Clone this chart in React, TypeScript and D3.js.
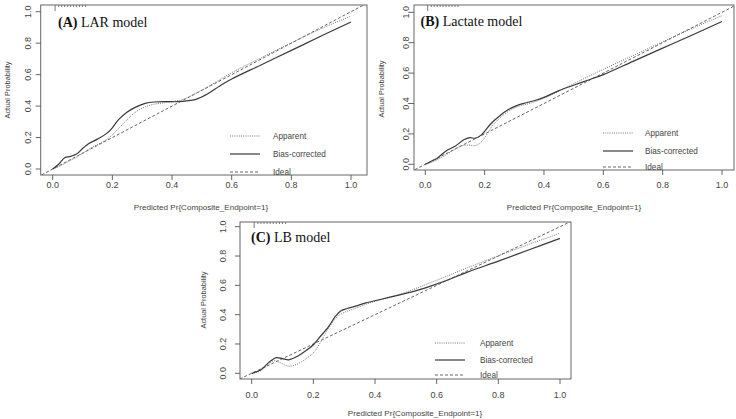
import { useEffect, useRef } from 'react';
import * as d3 from 'd3';

// calibration curves
const A_X_BIAS = [0, 0.02, 0.04, 0.06, 0.08, 0.1, 0.12, 0.15, 0.18, 0.2, 0.22, 0.25, 0.28, 0.31, 0.34, 0.38, 0.42, 0.45, 0.48, 0.52, 0.56, 0.6, 0.7, 0.8, 0.9, 1.0];
const A_Y_BIAS = [0, 0.03, 0.072, 0.08, 0.095, 0.13, 0.16, 0.19, 0.225, 0.262, 0.312, 0.362, 0.395, 0.417, 0.426, 0.428, 0.428, 0.433, 0.443, 0.478, 0.528, 0.572, 0.663, 0.754, 0.845, 0.935];
const A_X_APP = [0, 0.02, 0.04, 0.06, 0.08, 0.1, 0.13, 0.16, 0.19, 0.22, 0.25, 0.28, 0.31, 0.34, 0.37, 0.4, 0.44, 0.48, 0.52, 0.56, 0.6, 0.7, 0.8, 0.9, 1.0];
const A_Y_APP = [0, 0.015, 0.035, 0.055, 0.076, 0.1, 0.135, 0.165, 0.2, 0.255, 0.315, 0.365, 0.395, 0.412, 0.42, 0.428, 0.445, 0.482, 0.522, 0.568, 0.612, 0.708, 0.802, 0.892, 0.972];

const B_X_BIAS = [0, 0.02, 0.04, 0.07, 0.1, 0.13, 0.15, 0.17, 0.19, 0.22, 0.25, 0.28, 0.31, 0.34, 0.37, 0.4, 0.45, 0.5, 0.55, 0.6, 0.7, 0.8, 0.9, 1.0];
const B_Y_BIAS = [0, 0.02, 0.04, 0.088, 0.118, 0.162, 0.175, 0.172, 0.195, 0.265, 0.318, 0.36, 0.388, 0.405, 0.42, 0.44, 0.485, 0.52, 0.555, 0.59, 0.677, 0.764, 0.851, 0.939];
const B_X_APP = [0, 0.02, 0.05, 0.08, 0.1, 0.12, 0.14, 0.17, 0.19, 0.21, 0.23, 0.26, 0.29, 0.32, 0.36, 0.4, 0.45, 0.5, 0.6, 0.7, 0.8, 0.9, 1.0];
const B_Y_APP = [0, 0.012, 0.04, 0.075, 0.1, 0.12, 0.127, 0.124, 0.15, 0.205, 0.262, 0.32, 0.36, 0.385, 0.405, 0.435, 0.48, 0.53, 0.625, 0.715, 0.806, 0.894, 0.978];

const C_X_BIAS = [0, 0.03, 0.06, 0.08, 0.1, 0.12, 0.15, 0.18, 0.2, 0.22, 0.25, 0.27, 0.29, 0.31, 0.34, 0.37, 0.42, 0.47, 0.52, 0.58, 0.64, 0.7, 0.8, 0.9, 1.0];
const C_Y_BIAS = [0, 0.025, 0.082, 0.107, 0.1, 0.092, 0.118, 0.16, 0.195, 0.245, 0.32, 0.385, 0.427, 0.442, 0.46, 0.48, 0.505, 0.53, 0.555, 0.595, 0.64, 0.69, 0.765, 0.843, 0.92];
const C_X_APP = [0, 0.02, 0.04, 0.07, 0.09, 0.12, 0.15, 0.18, 0.2, 0.22, 0.25, 0.28, 0.3, 0.33, 0.38, 0.45, 0.5, 0.6, 0.7, 0.8, 0.9, 1.0];
const C_Y_APP = [0, 0.008, 0.035, 0.085, 0.075, 0.048, 0.065, 0.105, 0.14, 0.2, 0.31, 0.39, 0.415, 0.438, 0.478, 0.52, 0.553, 0.635, 0.72, 0.802, 0.88, 0.955];

// little histogram of predictions along the top edge
const RUG = [0.008, 0.02, 0.03, 0.04, 0.05, 0.06, 0.07, 0.08, 0.09, 0.1, 0.11];

const TICKS = [0, 0.2, 0.4, 0.6, 0.8, 1.0];
const LEGEND = ['Apparent', 'Bias-corrected', 'Ideal'];
const X_TITLE = 'Predicted Pr{Composite_Endpoint=1}';
const Y_TITLE = 'Actual Probability';

interface PanelSpec {
  id: string;
  tag: string;
  name: string;
  box: [number, number, number, number]; // l, t, r, b
  xr: [number, number]; // px of 0 and 1
  yr: [number, number];
  xLabY: number;
  yLabX: number;
  xTitle: [number, number];
  yTitle: [number, number];
  titleAt: [number, number];
  legend: [number, number, number, number[]]; // line x0, line x1, label x, rows
  bias: [number[], number[]];
  app: [number[], number[]];
}

const PANELS: PanelSpec[] = [
  {
    id: 'a', tag: '(A)', name: 'LAR model',
    box: [40.7, 5, 367, 175], xr: [52.7, 351], yr: [169, 11.7],
    xLabY: 185, yLabX: 28, xTitle: [201, 207], yTitle: [7.5, 90], titleAt: [58, 26.5],
    legend: [230, 260, 273, [136, 154, 172]],
    bias: [A_X_BIAS, A_Y_BIAS], app: [A_X_APP, A_Y_APP],
  },
  {
    id: 'b', tag: '(B)', name: 'Lactate model',
    box: [414, 5, 734, 170], xr: [425.3, 722], yr: [164.3, 12.3],
    xLabY: 185, yLabX: 406, xTitle: [574, 207], yTitle: [381, 89], titleAt: [420.5, 26],
    legend: [603, 633, 645, [133, 151, 167]],
    bias: [B_X_BIAS, B_Y_BIAS], app: [B_X_APP, B_Y_APP],
  },
  {
    id: 'c', tag: '(C)', name: 'LB model',
    box: [240, 222, 571, 379], xr: [251.7, 560], yr: [373.3, 226.7],
    xLabY: 395, yLabX: 223, xTitle: [415, 413], yTitle: [203, 300], titleAt: [251, 241.5],
    legend: [435, 465, 480, [343, 360, 375]],
    bias: [C_X_BIAS, C_Y_BIAS], app: [C_X_APP, C_Y_APP],
  },
];

const SANS = 'Liberation Sans, Arial, sans-serif';
const SERIF = 'Liberation Serif, Times New Roman, serif';

const drawPanel = (root: d3.Selection<SVGGElement, unknown, null, undefined>, p: PanelSpec) => {
  const [l, t, r, b] = p.box;
  const x = d3.scaleLinear().domain([0, 1]).range(p.xr);
  const y = d3.scaleLinear().domain([0, 1]).range(p.yr);
  const g = root.append('g');

  g.append('clipPath').attr('id', `clip-${p.id}`)
    .append('rect').attr('x', l).attr('y', t).attr('width', r - l).attr('height', b - t);

  const line = d3.line<[number, number]>()
    .x((d) => x(d[0]))
    .y((d) => y(d[1]))
    .curve(d3.curveCatmullRom.alpha(0.5));
  const pairs = (xs: number[], ys: number[]) => xs.map((v, i) => [v, ys[i]] as [number, number]);

  const plot = g.append('g').attr('clip-path', `url(#clip-${p.id})`);
  // ideal
  plot.append('path')
    .attr('d', line([[-0.2, -0.2], [1.2, 1.2]]))
    .attr('fill', 'none').attr('stroke', '#555').attr('stroke-width', 0.9).attr('stroke-dasharray', '3,2');
  // apparent
  plot.append('path')
    .attr('d', line(pairs(p.app[0], p.app[1])))
    .attr('fill', 'none').attr('stroke', '#777').attr('stroke-width', 1).attr('stroke-dasharray', '1,1.2');
  // bias-corrected
  plot.append('path')
    .attr('d', line(pairs(p.bias[0], p.bias[1])))
    .attr('fill', 'none').attr('stroke', '#3a3a3a').attr('stroke-width', 1.2);

  // rug at top
  g.selectAll(null).data(RUG).join('line')
    .attr('x1', (d) => x(d)).attr('x2', (d) => x(d))
    .attr('y1', t).attr('y2', (d, i) => (i === 0 ? t + 6 : t + 2))
    .attr('stroke', '#555').attr('stroke-width', 0.8);

  // box
  g.append('rect').attr('x', l).attr('y', t).attr('width', r - l).attr('height', b - t)
    .attr('fill', 'none').attr('stroke', '#666').attr('stroke-width', 1);

  // x axis
  TICKS.forEach((v) => {
    g.append('line').attr('x1', x(v)).attr('x2', x(v)).attr('y1', b).attr('y2', b + 5)
      .attr('stroke', '#555').attr('stroke-width', 0.9);
    g.append('text').attr('x', x(v)).attr('y', p.xLabY + 3.2).attr('text-anchor', 'middle')
      .style('font-family', SANS).style('font-size', '9px').attr('fill', '#444')
      .text(v.toFixed(1));
  });
  // y axis
  TICKS.forEach((v) => {
    g.append('line').attr('x1', l - 5).attr('x2', l).attr('y1', y(v)).attr('y2', y(v))
      .attr('stroke', '#555').attr('stroke-width', 0.9);
    g.append('text')
      .attr('transform', `translate(${p.yLabX + 3.2},${y(v)}) rotate(-90)`)
      .attr('text-anchor', 'middle')
      .style('font-family', SANS).style('font-size', '9px').attr('fill', '#444')
      .text(v.toFixed(1));
  });

  g.append('text').attr('x', p.xTitle[0]).attr('y', p.xTitle[1] + 3).attr('text-anchor', 'middle')
    .style('font-family', SANS).style('font-size', '8.1px').attr('fill', '#444').text(X_TITLE);
  g.append('text')
    .attr('transform', `translate(${p.yTitle[0] + 2.8},${p.yTitle[1]}) rotate(-90)`)
    .attr('text-anchor', 'middle')
    .style('font-family', SANS).style('font-size', '7.4px').attr('fill', '#444').text(Y_TITLE);

  const title = g.append('text').attr('x', p.titleAt[0]).attr('y', p.titleAt[1])
    .style('font-family', SERIF).style('font-size', '14px').attr('fill', '#111');
  title.append('tspan').attr('font-weight', 'bold').text(p.tag);
  title.append('tspan').text(` ${p.name}`);

  // legend
  const [lx0, lx1, tx, rows] = p.legend;
  const styles = [
    { stroke: '#777', dash: '1,1.2', w: 1 },
    { stroke: '#3a3a3a', dash: null, w: 1.2 },
    { stroke: '#555', dash: '3,2', w: 0.9 },
  ];
  LEGEND.forEach((lab, i) => {
    g.append('line').attr('x1', lx0).attr('x2', lx1).attr('y1', rows[i]).attr('y2', rows[i])
      .attr('stroke', styles[i].stroke).attr('stroke-width', styles[i].w)
      .attr('stroke-dasharray', styles[i].dash);
    g.append('text').attr('x', tx).attr('y', rows[i] + 3)
      .style('font-family', SANS).style('font-size', '8.2px').attr('fill', '#444').text(lab);
  });
};

export default function App() {
  const ref = useRef<SVGSVGElement>(null);

  useEffect(() => {
    if (!ref.current) return;
    const svg = d3.select(ref.current);
    svg.selectAll('*').remove();
    const root = svg.append('g');
    PANELS.forEach((p) => drawPanel(root, p));
  }, []);

  return (
    <svg
      ref={ref}
      width={736}
      height={419}
      style={{ position: 'absolute', left: 0, top: 0, background: '#fff' }}
    />
  );
}
